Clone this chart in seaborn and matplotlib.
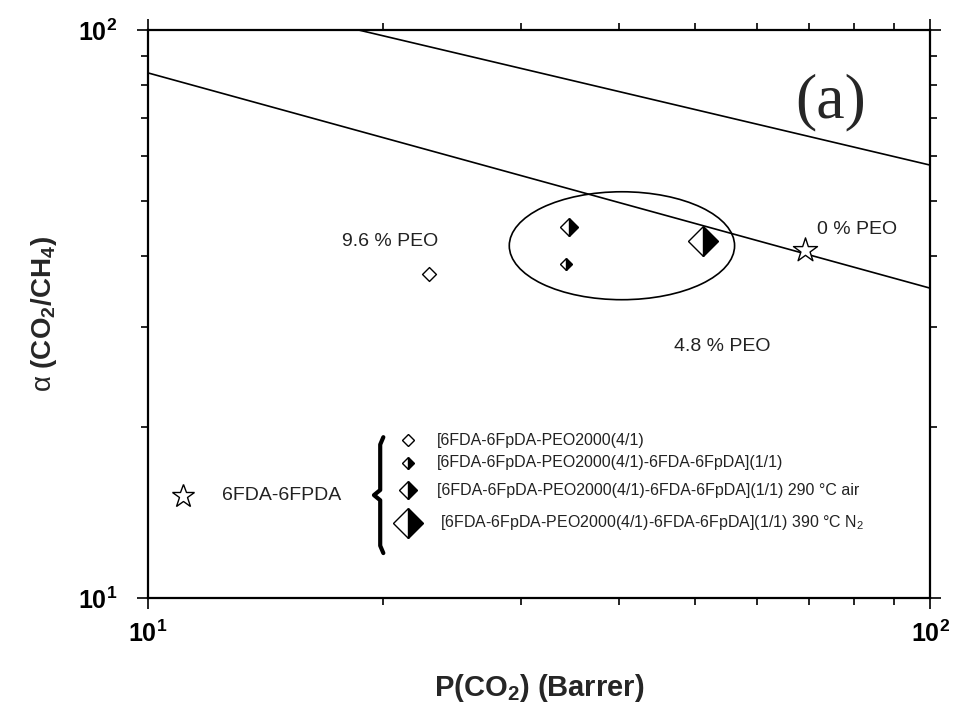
import numpy as np
import seaborn as sns
import matplotlib.pyplot as plt
from matplotlib.patches import Ellipse
from matplotlib.ticker import NullFormatter

# data: P(CO2) in Barrer, alpha(CO2/CH4)
pure_p = [69.2]
pure_a = [41.0]
peo96_p = [22.9]
peo96_a = [37.2]
copoly_p = [34.2]
copoly_a = [38.7]
air290_p = [34.5]
air290_a = [45.0]
n2390_p = [51.3]
n2390_a = [42.5]

# upper bound lines (end points)
bound1_p = [10, 100]
bound1_a = [84.0, 35.1]
bound2_p = [18.56, 100]
bound2_a = [100, 57.8]

legend_labels = [
    "[6FDA-6FpDA-PEO2000(4/1)",
    "[6FDA-6FpDA-PEO2000(4/1)-6FDA-6FpDA](1/1)",
    "[6FDA-6FpDA-PEO2000(4/1)-6FDA-6FpDA](1/1) 290 \u00b0C air",
    "[6FDA-6FpDA-PEO2000(4/1)-6FDA-6FpDA](1/1) 390 \u00b0C N$_2$",
]

sns.set_style("white")
plt.rcParams['font.family'] = ['Liberation Sans', 'DejaVu Sans']
plt.rcParams['mathtext.fontset'] = 'custom'
plt.rcParams['mathtext.rm'] = 'Liberation Sans'
plt.rcParams['mathtext.bf'] = 'Liberation Sans:bold'

fig = plt.figure(figsize=(9.54, 7.11), dpi=100)
ax = fig.add_axes([0.155, 0.159, 0.82, 0.799])

# bound lines
sns.lineplot(x=bound1_p, y=bound1_a, ax=ax, color='black', lw=1.2)
sns.lineplot(x=bound2_p, y=bound2_a, ax=ax, color='black', lw=1.2)

# data points
sns.scatterplot(x=peo96_p, y=peo96_a, ax=ax, marker='D', s=50,
                facecolor='white', edgecolor='black', linewidth=1.0, zorder=5)
sns.scatterplot(x=pure_p, y=pure_a, ax=ax, marker='*', s=330,
                facecolor='white', edgecolor='black', linewidth=1.0, zorder=5)
half = dict(marker='D', ls='none', fillstyle='right', markerfacecolor='black',
            markerfacecoloralt='white', markeredgecolor='black', mew=1.0, zorder=5)
ax.plot(copoly_p, copoly_a, ms=6.5, **half)
ax.plot(air290_p, air290_a, ms=9.5, **half)
ax.plot(n2390_p, n2390_a, ms=15.5, **half)

# ellipse around the copolymer group
ax.add_patch(Ellipse((0.606, 0.62), 0.288, 0.19, transform=ax.transAxes,
                     fill=False, ec='black', lw=1.2))

ax.set_xscale('log')
ax.set_yscale('log')
ax.set_xlim(10, 100)
ax.set_ylim(10, 100)

# annotations
txt = dict(fontsize=14, color='#222222', ha='center', va='center')
ax.text(20.4, 42.4, "9.6 % PEO", **txt)
ax.text(80.6, 44.6, "0 % PEO", **txt)
ax.text(54.2, 27.7, "4.8 % PEO", **txt)
ax.text(0.873, 0.873, "(a)", transform=ax.transAxes, fontsize=46,
        family='Liberation Serif', ha='center', va='center')

# hand-made legend
ax.plot([0.0448], [0.180], transform=ax.transAxes, marker='*', ms=17,
        mfc='white', mec='black', mew=1.0, ls='none', clip_on=False)
ax.text(0.0946, 0.180, "6FDA-6FPDA", transform=ax.transAxes, fontsize=14,
        color='#222222', va='center', ha='left')
bx = [0.301, 0.297, 0.297, 0.289, 0.297, 0.297, 0.301]
by = [0.283, 0.270, 0.190, 0.181, 0.172, 0.092, 0.079]
ax.plot(bx, by, transform=ax.transAxes, color='black', lw=3)

leg_y = [0.278, 0.238, 0.190, 0.132]
leg_ms = [6.5, 6.5, 9.5, 15.5]
for i, (yy, ms, lab) in enumerate(zip(leg_y, leg_ms, legend_labels)):
    if i == 0:
        ax.plot([0.3325], [yy], transform=ax.transAxes, marker='D', ms=ms,
                mfc='white', mec='black', mew=1.0, ls='none')
    else:
        ax.plot([0.3325], [yy], transform=ax.transAxes, ms=ms, **half)
    ax.text(0.3696 if i < 3 else 0.373, yy, lab, transform=ax.transAxes,
            fontsize=11.5, color='#222222', va='center', ha='left')

# axes styling
for s in ax.spines.values():
    s.set_linewidth(1.6)
    s.set_color('black')
ax.tick_params(which='both', direction='out', top=True, right=True,
               bottom=True, left=True, colors='black', width=1.2)
ax.tick_params(which='major', length=8)
ax.tick_params(which='minor', length=5)
ax.set_xticks([10, 100])
ax.set_yticks([10, 100])
ax.xaxis.set_minor_formatter(NullFormatter())
ax.yaxis.set_minor_formatter(NullFormatter())
ax.set_xticklabels([r'$\mathbf{10^{1}}$', r'$\mathbf{10^{2}}$'], fontsize=18)
ax.set_yticklabels([r'$\mathbf{10^{1}}$', r'$\mathbf{10^{2}}$'], fontsize=18)
ax.tick_params(axis='x', pad=8)
ax.tick_params(axis='y', pad=14)
ax.tick_params(labeltop=False, labelright=False)

ax.set_xlabel(r'P(CO$_\mathbf{2}$) (Barrer)', fontsize=21, fontweight='bold', labelpad=18)
ax.set_ylabel(r'$\mathrm{\alpha}$ (CO$_\mathbf{2}$/CH$_\mathbf{4}$)', fontsize=20,
              fontweight='bold', labelpad=14)

fig.savefig('out.png', dpi=100)
